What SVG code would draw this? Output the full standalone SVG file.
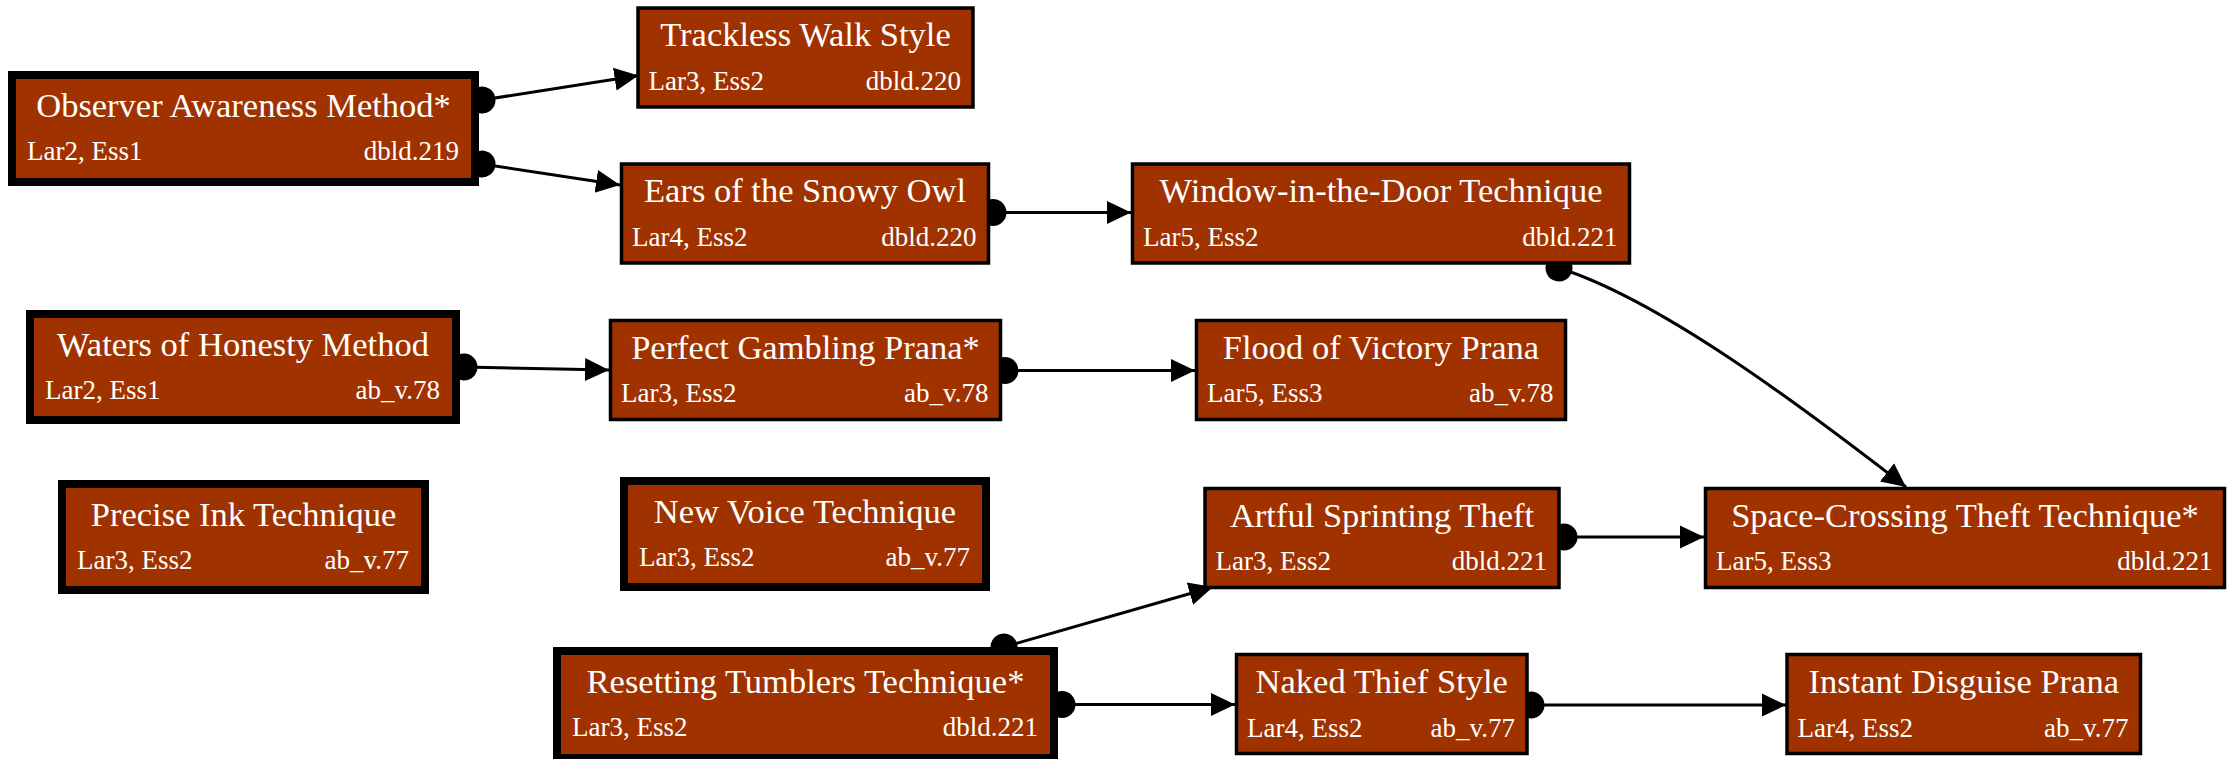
<svg xmlns="http://www.w3.org/2000/svg" width="2235" height="759" viewBox="0 0 2235 759">
  <style>
    .box { fill: #a03200; stroke: #000; }
    .thin { stroke-width: 3.5; }
    .bold { stroke-width: 8; }
    .title { font-family: "Liberation Serif", "DejaVu Serif", serif; font-size: 34.5px; fill: #fff; text-anchor: middle; }
    .sub { font-family: "Liberation Serif", "DejaVu Serif", serif; font-size: 27px; fill: #fff; }
    .end { text-anchor: end; }
    .edge { fill: none; stroke: #000; stroke-width: 3; marker-start: url(#dot); marker-end: url(#arrow); }
  </style>
  <defs>
    <marker id="arrow" markerUnits="userSpaceOnUse" markerWidth="26" markerHeight="26" viewBox="0 -13 26 26" refX="24" refY="0" orient="auto">
      <path d="M0,-11.5 L24,0 L0,11.5 Z" fill="#000"/>
    </marker>
    <marker id="dot" markerUnits="userSpaceOnUse" markerWidth="30" markerHeight="30" viewBox="-15 -15 30 30" refX="0" refY="0" orient="auto">
      <circle r="13.5" fill="#000"/>
    </marker>
  </defs>
  <rect width="2235" height="759" fill="#fff"/>

  <!-- connectors: drawn first so node borders cover half of each tail dot -->
  <g id="edges">
    <path class="edge" d="M482,100 L638.5,75.5"/>
    <path class="edge" d="M482,164 L620,185"/>
    <path class="edge" d="M993,212.5 L1131,212.5"/>
    <path class="edge" d="M1559,268 C1660,300 1800,405 1906,487"/>
    <path class="edge" d="M464,367 L609,370"/>
    <path class="edge" d="M1005,370.5 L1195,370.5"/>
    <path class="edge" d="M1564,537 L1704,537"/>
    <path class="edge" d="M1004,647 L1213,587"/>
    <path class="edge" d="M1062,704.5 L1235,704.5"/>
    <path class="edge" d="M1531,705 L1786,705"/>
  </g>

  <g id="n_observer">
    <rect class="box bold" x="12" y="75" width="463" height="107"/>
    <text class="title" x="243.5" y="116.5">Observer Awareness Method*</text>
    <text class="sub" x="27" y="160">Lar2, Ess1</text>
    <text class="sub end" x="459" y="160">dbld.219</text>
  </g>
  <g id="n_trackless">
    <rect class="box thin" x="638" y="8" width="335" height="99"/>
    <text class="title" x="805.5" y="46">Trackless Walk Style</text>
    <text class="sub" x="648.5" y="89.5">Lar3, Ess2</text>
    <text class="sub end" x="961" y="89.5">dbld.220</text>
  </g>
  <g id="n_ears">
    <rect class="box thin" x="621.5" y="164" width="367" height="99"/>
    <text class="title" x="805" y="202">Ears of the Snowy Owl</text>
    <text class="sub" x="632" y="245.5">Lar4, Ess2</text>
    <text class="sub end" x="976.5" y="245.5">dbld.220</text>
  </g>
  <g id="n_window">
    <rect class="box thin" x="1132.5" y="164" width="497" height="99"/>
    <text class="title" x="1381" y="202">Window-in-the-Door Technique</text>
    <text class="sub" x="1143" y="245.5">Lar5, Ess2</text>
    <text class="sub end" x="1617.5" y="245.5">dbld.221</text>
  </g>
  <g id="n_waters">
    <rect class="box bold" x="30" y="314" width="426" height="106"/>
    <text class="title" x="243" y="355.5">Waters of Honesty Method</text>
    <text class="sub" x="45" y="399">Lar2, Ess1</text>
    <text class="sub end" x="440" y="399">ab_v.78</text>
  </g>
  <g id="n_perfect">
    <rect class="box thin" x="610.5" y="320.5" width="390" height="99"/>
    <text class="title" x="805.5" y="358.5">Perfect Gambling Prana*</text>
    <text class="sub" x="621" y="402">Lar3, Ess2</text>
    <text class="sub end" x="988.5" y="402">ab_v.78</text>
  </g>
  <g id="n_flood">
    <rect class="box thin" x="1196.5" y="320.5" width="369" height="99"/>
    <text class="title" x="1381" y="358.5">Flood of Victory Prana</text>
    <text class="sub" x="1207" y="402">Lar5, Ess3</text>
    <text class="sub end" x="1553.5" y="402">ab_v.78</text>
  </g>
  <g id="n_precise">
    <rect class="box bold" x="62" y="484" width="363" height="106"/>
    <text class="title" x="243.5" y="525.5">Precise Ink Technique</text>
    <text class="sub" x="77" y="569">Lar3, Ess2</text>
    <text class="sub end" x="409" y="569">ab_v.77</text>
  </g>
  <g id="n_newvoice">
    <rect class="box bold" x="624" y="481" width="362" height="106"/>
    <text class="title" x="805" y="522.5">New Voice Technique</text>
    <text class="sub" x="639" y="566">Lar3, Ess2</text>
    <text class="sub end" x="970" y="566">ab_v.77</text>
  </g>
  <g id="n_artful">
    <rect class="box thin" x="1205" y="488.5" width="354" height="99"/>
    <text class="title" x="1382" y="526.5">Artful Sprinting Theft</text>
    <text class="sub" x="1215.5" y="570">Lar3, Ess2</text>
    <text class="sub end" x="1547" y="570">dbld.221</text>
  </g>
  <g id="n_space">
    <rect class="box thin" x="1705.5" y="488.5" width="519" height="99"/>
    <text class="title" x="1965" y="526.5">Space-Crossing Theft Technique*</text>
    <text class="sub" x="1716" y="570">Lar5, Ess3</text>
    <text class="sub end" x="2212.5" y="570">dbld.221</text>
  </g>
  <g id="n_resetting">
    <rect class="box bold" x="557" y="651" width="497" height="107"/>
    <text class="title" x="805.5" y="692.5">Resetting Tumblers Technique*</text>
    <text class="sub" x="572" y="736">Lar3, Ess2</text>
    <text class="sub end" x="1038" y="736">dbld.221</text>
  </g>
  <g id="n_naked">
    <rect class="box thin" x="1236.5" y="654.5" width="290.5" height="99"/>
    <text class="title" x="1381.75" y="692.5">Naked Thief Style</text>
    <text class="sub" x="1247" y="736.5">Lar4, Ess2</text>
    <text class="sub end" x="1515" y="736.5">ab_v.77</text>
  </g>
  <g id="n_instant">
    <rect class="box thin" x="1787" y="654.5" width="353.5" height="99"/>
    <text class="title" x="1963.75" y="692.5">Instant Disguise Prana</text>
    <text class="sub" x="1797.5" y="736.5">Lar4, Ess2</text>
    <text class="sub end" x="2128.5" y="736.5">ab_v.77</text>
  </g>
</svg>
